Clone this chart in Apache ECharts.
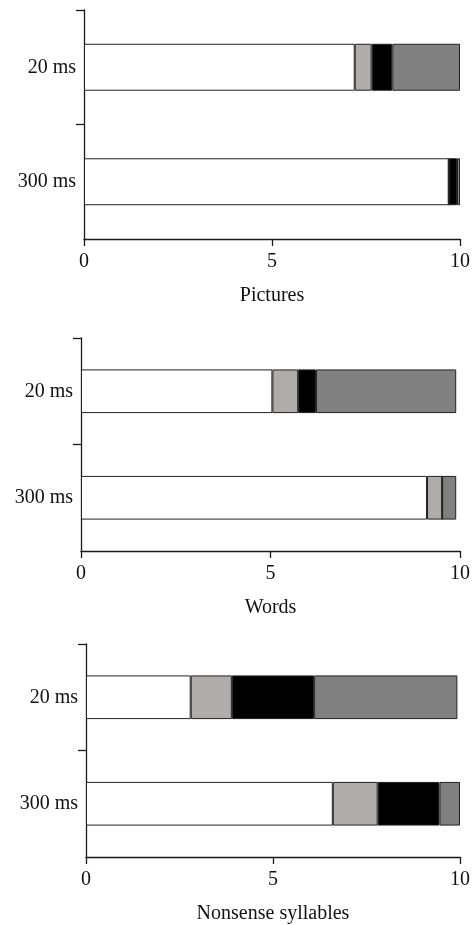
<!DOCTYPE html>
<html>
<head>
<meta charset="utf-8">
<script src="https://cdn.jsdelivr.net/npm/echarts@6/dist/echarts.min.js"></script>
<style>
html,body{margin:0;padding:0;background:#fff;}
#c{width:473px;height:925px;}
</style>
</head>
<body>
<div id="c"></div>
<script>
var categories = ['20 ms', '300 ms'];
var xTicks = [0, 5, 10];
var panelNames = ['Pictures', 'Words', 'Nonsense syllables'];

// segment values per panel: [20 ms, 300 ms]
var picturesWhite = [7.2, 9.7];
var picturesLight = [0.45, 0];
var picturesBlack = [0.55, 0.22];
var picturesDark  = [1.8, 0.08];

var wordsWhite = [5.05, 9.13];
var wordsLight = [0.68, 0.4];
var wordsBlack = [0.47, 0];
var wordsDark  = [3.7, 0.37];

var nonsenseWhite = [2.8, 6.6];
var nonsenseLight = [1.1, 1.2];
var nonsenseBlack = [2.2, 1.65];
var nonsenseDark  = [3.83, 0.55];

var segColors = ['#ffffff', '#afacab', '#000000', '#808080'];
var panels = [
  [picturesWhite, picturesLight, picturesBlack, picturesDark],
  [wordsWhite, wordsLight, wordsBlack, wordsDark],
  [nonsenseWhite, nonsenseLight, nonsenseBlack, nonsenseDark]
];

var grids = [
  {left: 84, right: 12, top: 10, height: 229},
  {left: 81, right: 8, top: 338, height: 213},
  {left: 86, right: 10, top: 644, height: 217}
];
var nameGaps = [47, 47, 47];

var font = 'Liberation Serif';
var fs = 20;
var lineStyle = {color: '#1a1a1a', width: 1.3};

var xAxes = [], yAxes = [], series = [];
grids.forEach(function (g, i) {
  xAxes.push({
    type: 'value', gridIndex: i, min: 0, max: 10, interval: 5,
    axisLine: {show: true, lineStyle: lineStyle},
    axisTick: {show: true, length: 7, lineStyle: lineStyle},
    splitLine: {show: false},
    axisLabel: {fontFamily: font, fontSize: fs, color: '#111', margin: 13,
      formatter: function (v) { return xTicks.indexOf(v) >= 0 ? String(v) : ''; }},
    name: panelNames[i], nameLocation: 'middle', nameGap: nameGaps[i],
    nameTextStyle: {fontFamily: font, fontSize: fs, color: '#111'}
  });
  yAxes.push({
    type: 'category', gridIndex: i, data: categories, inverse: true,
    axisLine: {show: true, lineStyle: lineStyle},
    axisTick: {show: false},
    axisLabel: {fontFamily: font, fontSize: fs, color: '#111', margin: 8}
  });
  // helper axis only for the boundary ticks (top and between categories)
  yAxes.push({
    type: 'value', gridIndex: i, min: 0, max: 2, interval: 1, position: 'left',
    axisLine: {show: false},
    axisTick: {show: true, length: 8, lineStyle: lineStyle, customValues: [1, 2]},
    axisLabel: {show: false},
    splitLine: {show: false}
  });
  panels[i].forEach(function (vals, k) {
    series.push({
      type: 'bar', xAxisIndex: i, yAxisIndex: i * 2, stack: 'p' + i,
      data: vals, barWidth: '41%',
      itemStyle: {color: segColors[k], borderColor: '#222', borderWidth: 1},
      emphasis: {disabled: true},
      animation: false
    });
  });
});

var chart = echarts.init(document.getElementById('c'));
chart.setOption({
  animation: false,
  grid: grids,
  xAxis: xAxes,
  yAxis: yAxes,
  series: series
});
</script>
</body>
</html>
